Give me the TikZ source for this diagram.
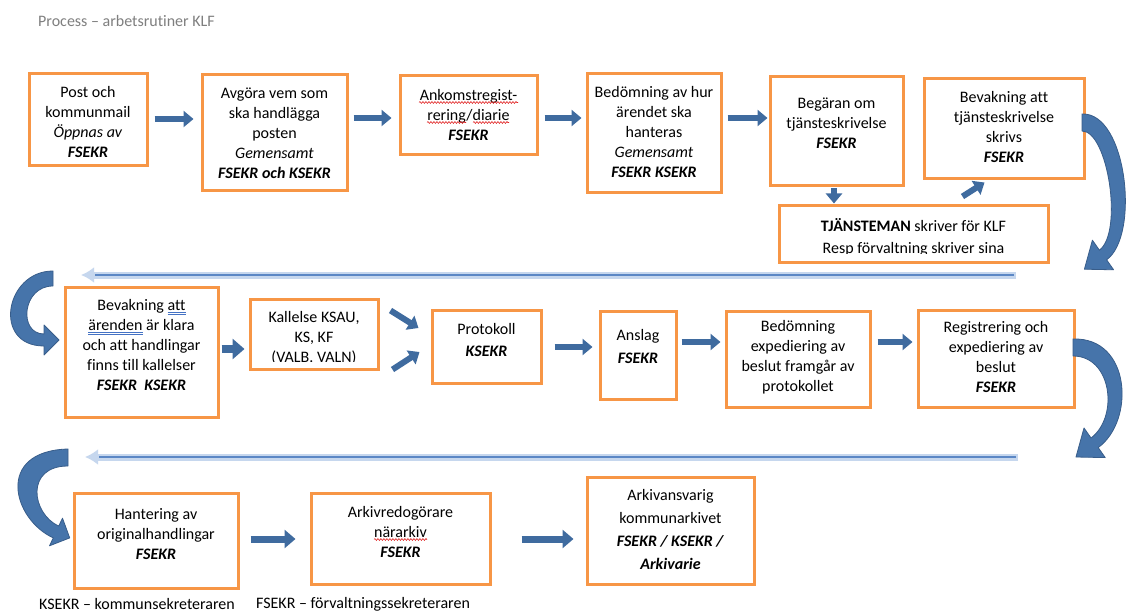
\documentclass[tikz,border=0pt]{standalone}
\usepackage{fontspec}
\setmainfont{Carlito}[Ligatures=NoCommon]
\usetikzlibrary{arrows.meta,calc,decorations.pathmorphing}
\definecolor{boxorange}{HTML}{F79646}
\definecolor{arrblue}{HTML}{3F6B9F}
\definecolor{curvblue}{HTML}{4674AA}
\definecolor{curvedge}{HTML}{385D8A}
\definecolor{lineblue}{HTML}{5B87C5}
\definecolor{halo}{HTML}{C6D7EE}
\definecolor{titlegray}{HTML}{7F7F7F}
\definecolor{spellred}{HTML}{E02020}
\definecolor{grammarblue}{HTML}{4472C4}
\newcommand{\bfit}[1]{\textbf{\textit{#1}}}
\begin{document}
\begin{tikzpicture}[x=1pt,y=-1pt,
  box/.style={draw=boxorange, line width=3pt, fill=white, inner sep=0pt},
  txt/.style={align=center, font=\fontsize{16}{20}\selectfont, inner sep=0pt},
  plain/.style={font=\fontsize{16}{20}\selectfont, inner sep=0pt},
  blk/.style={draw=arrblue, line width=6pt, -{Triangle[length=10pt,width=16pt]}},
  halo line/.style={draw=halo, line width=7pt, -{Latex[length=13pt,width=16pt]}},
  core line/.style={draw=lineblue, line width=2.2pt},
  curv/.style={fill=curvblue, draw=curvedge, line width=0.8pt, line join=round},
  spell/.style={draw=spellred, line width=0.6pt, decorate, decoration={snake, amplitude=0.9pt, segment length=3pt}},
  gram/.style={draw=grammarblue, line width=0.6pt}]
\useasboundingbox[fill=white] (0,0) rectangle (1126,612);

% title
\node[plain, text=titlegray, anchor=west] (title) at (38,21) {Process – arbetsrutiner KLF};

% ---------- row 1 ----------
\node[box, minimum width=118pt, minimum height=92pt] (b1) at (88,120) {};
\node[txt] (b1t) at ($(b1)+(0,2)$) {Post och\\ kommunmail\\ \textit{Öppnas av}\\ \bfit{FSEKR}};

\node[box, minimum width=145pt, minimum height=116pt] (b2) at (274.5,133) {};
\node[txt] (b2t) at ($(b2)+(0,0)$) {Avgöra vem som\\ ska handlägga\\ posten\\ \textit{Gemensamt}\\ \bfit{FSEKR och KSEKR}};

\node[box, minimum width=137pt, minimum height=79pt] (b3) at (468.5,115.5) {};
\node[txt] (b3t) at ($(b3)+(0,-0.5)$) {Ankomstregist-\\ rering/diarie\\ \bfit{FSEKR}};
\draw[spell] (419,102.5) -- (518,102.5);
\draw[spell] (427,122.5) -- (466,122.5);
\draw[spell] (473,122.5) -- (509,122.5);

\node[box, minimum width=134pt, minimum height=119pt] (b4) at (654,133.5) {};
\node[txt] (b4t) at ($(b4)+(0,-1)$) {Bedömning av hur\\ ärendet ska\\ hanteras\\ \textit{Gemensamt}\\ \bfit{FSEKR KSEKR}};

\node[box, minimum width=133pt, minimum height=109pt] (b5) at (836.5,131.5) {};
\node[txt] (b5t) at ($(b5)+(0,-8)$) {Begäran om\\ tjänsteskrivelse\\ \bfit{FSEKR}};

\node[box, minimum width=160pt, minimum height=100pt] (b6) at (1004,129) {};
\node[txt] (b6t) at ($(b6)+(0,-1.5)$) {Bevakning att\\ tjänsteskrivelse\\ skrivs\\ \bfit{FSEKR}};

\node[box, minimum width=269pt, minimum height=56pt] (tb) at (913.5,234) {};
\begin{scope}
  \clip (781,208) rectangle (1046,253.5);
  \node[txt] (tbt) at ($(tb)+(0,3)$) {\textbf{TJÄNSTEMAN} skriver för KLF\\[2pt] Resp förvaltning skriver sina};
\end{scope}

% row 1 connectors
\draw[blk] ([xshift=6pt,yshift=1pt]b1.east) -- ([xshift=-7pt]b2.west |- 0,119);
\draw[blk] ([xshift=5pt]b2.east |- 0,118) -- ([xshift=-7pt]b3.west |- 0,118);
\draw[blk] ([xshift=6pt]b3.east |- 0,118) -- ([xshift=-4pt]b4.west |- 0,118);
\draw[blk] ([xshift=5pt]b4.east |- 0,118) -- ([xshift=-1pt]b5.west |- 0,118);
\draw[blk] ([yshift=-1pt]b5.south -| 834,0) -- ([yshift=1pt]tb.north -| 834,0);
\draw[blk] ([xshift=185pt,yshift=8pt]tb.north west) -- ([xshift=62pt,yshift=-2pt]b6.south west);

% right curved arrow 1
\path[curv] (1082,114) .. controls (1127,112) and (1140,236) .. (1106.6,259.8)
  -- (1113.6,269.8) -- (1084.4,269.2) -- (1092.4,240.2) -- (1099.4,250.2)
  .. controls (1123.4,232.2) and (1108,131) .. (1082,131) -- cycle;

% return line 1
\coordinate (l1s) at (1016,275);
\coordinate (l1e) at (81,275);
\draw[halo line] (l1s) -- (l1e);
\draw[core line] ([xshift=-2pt]l1s) -- ([xshift=14pt]l1e);

% left curved arrow 1
\path[curv] (53,271) .. controls (5,271) and (-8,346) .. (44,346)
  -- (44,355) -- (59,340) -- (44,325) -- (44,334)
  .. controls (18,334) and (22,286) .. (53,286) -- cycle;

% ---------- row 2 ----------
\node[box, minimum width=153pt, minimum height=130pt] (c1) at (141.5,352) {};
\node[txt] (c1t) at ($(c1)+(0,-7)$) {Bevakning att\\ ärenden är klara\\ och att handlingar\\ finns till kallelser\\ \bfit{FSEKR\ \ KSEKR}};
\draw[gram] (167.5,312) -- (186,312);
\draw[gram] (167.5,314) -- (186,314);
\draw[gram] (88,332) -- (142.5,332);
\draw[gram] (88,334) -- (142.5,334);

\node[box, minimum width=128pt, minimum height=70pt] (c2) at (314,334) {};
\begin{scope}
  \clip (252,301) rectangle (376,361.5);
  \node[txt] (c2t) at ($(c2)+(0,4)$) {Kallelse KSAU,\\ KS, KF\\ (VALB. VALN)};
\end{scope}

\node[box, minimum width=109pt, minimum height=73pt] (c3) at (486.5,346.5) {};
\node[txt] (c3t) at ($(c3)+(0,-7)$) {Protokoll\\[2pt] \bfit{KSEKR}};

\node[box, minimum width=76pt, minimum height=88pt] (c4) at (638,355) {};
\node[txt] (c4t) at ($(c4)+(0,-8.5)$) {Anslag\\[3pt] \bfit{FSEKR}};

\node[box, minimum width=144pt, minimum height=96pt] (c5) at (798,359) {};
\node[txt] (c5t) at ($(c5)+(0,-1.5)$) {Bedömning\\ expediering av\\ beslut framgår av\\ protokollet};

\node[box, minimum width=156pt, minimum height=97pt] (c6) at (996,358.5) {};
\node[txt] (c6t) at ($(c6)+(0,-1.5)$) {Registrering och\\ expediering av\\ beslut\\ \bfit{FSEKR}};

% row 2 connectors
\draw[blk, line width=8pt, -{Triangle[length=12pt,width=20pt]}] ([xshift=2pt]c1.east |- 0,349) -- ([xshift=-4pt]c2.west |- 0,349);
\draw[blk] ([xshift=11pt,yshift=-13pt]c2.north east) -- ([xshift=-12pt,yshift=18.5pt]c3.west);
\draw[blk] ([xshift=13pt,yshift=1pt]c2.south east) -- ([xshift=-11pt,yshift=-5.5pt]c3.west);
\draw[blk] ([xshift=12pt]c3.east |- 0,347) -- ([xshift=-6pt]c4.west |- 0,347);
\draw[blk] ([xshift=4pt]c4.east |- 0,342) -- ([xshift=-4pt]c5.west |- 0,342);
\draw[blk] ([xshift=6pt]c5.east |- 0,342) -- ([xshift=-4pt]c6.west |- 0,342);

% right curved arrow 2
\path[curv] (1073,339) .. controls (1131,337) and (1135.2,420.6) .. (1098.2,447.6)
  -- (1105.2,457.6) -- (1076,457) -- (1084,428) -- (1091,438)
  .. controls (1119,417) and (1112,356) .. (1073,356) -- cycle;

% return line 2
\coordinate (l2s) at (1018,457);
\coordinate (l2e) at (85,457);
\draw[halo line] (l2s) -- (l2e);
\draw[core line] ([xshift=-2pt]l2s) -- ([xshift=14pt]l2e);

% left curved arrow 2
\path[curv] (68,449) .. controls (-5,451) and (12.3,519) .. (53.3,537.9)
  -- (49.5,545.8) -- (69.7,537.9) -- (62.5,518.2) -- (58.7,526.1)
  .. controls (31.4,513.5) and (25,466) .. (68,466) -- cycle;

% ---------- row 3 ----------
\node[box, minimum width=164pt, minimum height=95pt] (d1) at (156,540.5) {};
\node[txt] (d1t) at ($(d1)+(0,-6.5)$) {Hantering av\\ originalhandlingar\\ \bfit{FSEKR}};

\node[box, minimum width=179pt, minimum height=91pt] (d2) at (400.5,538.5) {};
\node[txt] (d2t) at ($(d2)+(0,-6.5)$) {Arkivredogörare\\ närarkiv\\ \bfit{FSEKR}};
\draw[spell] (374,539.5) -- (427,539.5);

\node[box, minimum width=167pt, minimum height=107pt] (d3) at (670.5,530.5) {};
\node[txt] (d3t) at ($(d3)+(0,-1.5)$) {Arkivansvarig\\[3pt] kommunarkivet\\[3pt] \bfit{FSEKR / KSEKR /}\\[3pt] \bfit{Arkivarie}};

\draw[blk, line width=7pt, -{Triangle[length=11pt,width=18pt]}] ([xshift=11pt]d1.east |- 0,539) -- ([xshift=-14pt]d2.west |- 0,539);
\draw[blk, line width=7pt, -{Triangle[length=11pt,width=18pt]}] ([xshift=30pt]d2.east |- 0,539) -- ([xshift=-12pt]d3.west |- 0,539);

% legend
\node[plain, anchor=west] (leg1) at (39,604) {KSEKR – kommunsekreteraren};
\node[plain, anchor=west] (leg2) at (256,604) {FSEKR – förvaltningssekreteraren};
\end{tikzpicture}
\end{document}
